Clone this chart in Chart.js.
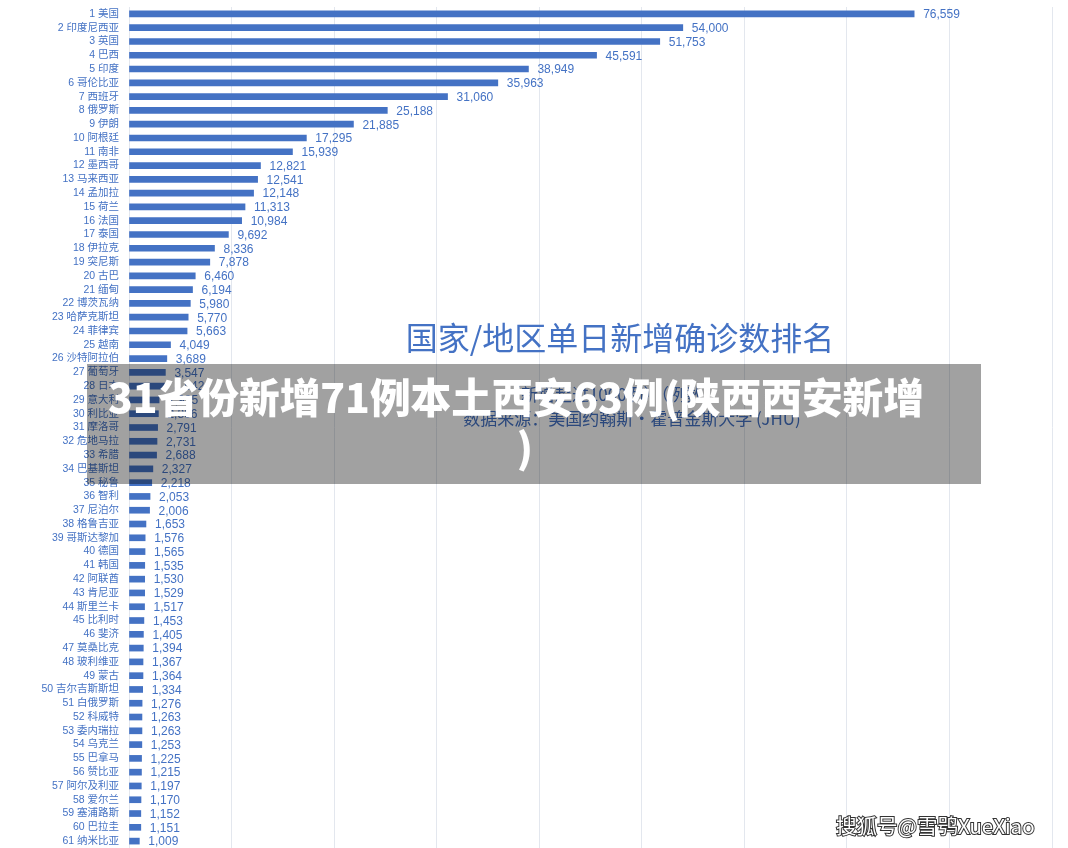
<!DOCTYPE html>
<html>
<head>
<meta charset="utf-8">
<script src="https://cdn.jsdelivr.net/npm/chart.js@4/dist/chart.umd.min.js"></script>
<style>
html,body{margin:0;padding:0;background:#fff;}
#wrap{width:1068px;height:848px;position:relative;}
</style>
</head>
<body>
<div id="wrap"><canvas id="c"></canvas></div>
<script>
const countries = ['美国','印度尼西亚','英国','巴西','印度','哥伦比亚','西班牙','俄罗斯','伊朗','阿根廷',
  '南非','墨西哥','马来西亚','孟加拉','荷兰','法国','泰国','伊拉克','突尼斯','古巴',
  '缅甸','博茨瓦纳','哈萨克斯坦','菲律宾','越南','沙特阿拉伯','葡萄牙','日本','意大利','利比亚',
  '摩洛哥','危地马拉','希腊','巴基斯坦','秘鲁','智利','尼泊尔','格鲁吉亚','哥斯达黎加','德国',
  '韩国','阿联酋','肯尼亚','斯里兰卡','比利时','斐济','莫桑比克','玻利维亚','蒙古','吉尔吉斯斯坦',
  '白俄罗斯','科威特','委内瑞拉','乌克兰','巴拿马','赞比亚','阿尔及利亚','爱尔兰','塞浦路斯','巴拉圭',
  '纳米比亚'];
const dailyCases = [76559,54000,51753,45591,38949,35963,31060,25188,21885,17295,
  15939,12821,12541,12148,11313,10984,9692,8336,7878,6460,
  6194,5980,5770,5663,4049,3689,3547,3542,2935,2866,
  2791,2731,2688,2327,2218,2053,2006,1653,1576,1565,
  1535,1530,1529,1517,1453,1405,1394,1367,1364,1334,
  1276,1263,1263,1253,1225,1215,1197,1170,1152,1151,
  1009];
const rankLabels = countries.map((n, i) => (i + 1) + ' ' + n);
const titleText = '国家/地区单日新增确诊数排名';
const noteText = '（新增超过1000例）（例数）';
const sourceText = '数据来源：美国约翰斯·霍普金斯大学 (JHU)';
const bannerLine1 = '31省份新增71例本土西安63例(陕西西安新增';
const bannerLine2 = ')';
const watermark = '搜狐号@雪鸮XueXiao';

const BLUE = '#4472C4';
const FONT = '"Liberation Sans", "Noto Sans CJK SC", sans-serif';

const valueLabels = {
  id: 'valueLabels',
  afterDatasetsDraw(chart) {
    const ctx = chart.ctx;
    const meta = chart.getDatasetMeta(0);
    ctx.save();
    ctx.font = '12px ' + FONT;
    ctx.fillStyle = BLUE;
    ctx.textAlign = 'left';
    ctx.textBaseline = 'middle';
    meta.data.forEach((bar, i) => {
      ctx.fillText(dailyCases[i].toLocaleString('en-US'), bar.x + 9, bar.y + 1);
    });
    ctx.restore();
  }
};

const decorations = {
  id: 'decorations',
  afterDraw(chart) {
    const ctx = chart.ctx;
    ctx.save();
    ctx.fillStyle = BLUE;
    ctx.textAlign = 'center';
    ctx.textBaseline = 'middle';
    ctx.font = '32px "Noto Sans CJK SC", sans-serif';
    ctx.fillText(titleText, 620, 338);
    ctx.font = '17px "Noto Sans CJK SC", sans-serif';
    ctx.fillText(noteText, 612, 395);
    ctx.font = '17px "Noto Sans CJK SC", "Liberation Sans", sans-serif';
    ctx.fillText(sourceText, 632, 419);
    ctx.fillStyle = 'rgba(0,0,0,0.37)';
    ctx.fillRect(87, 364, 894, 120);
    ctx.fillStyle = '#ffffff';
    ctx.font = '900 40px "Noto Sans CJK SC", sans-serif';
    const w = ctx.measureText(bannerLine1).width;
    const fs = 40 * 816 / w;
    ctx.font = '900 ' + fs.toFixed(1) + 'px "Noto Sans CJK SC", sans-serif';
    ctx.fillText(bannerLine1, 516, 398);
    ctx.fillText(bannerLine2, 525, 448);
    ctx.font = '20.5px "Noto Sans CJK SC", "Liberation Sans", sans-serif';
    ctx.textAlign = 'left';
    ctx.lineWidth = 2;
    ctx.strokeStyle = '#333333';
    ctx.strokeText(watermark, 836, 826);
    ctx.fillStyle = '#ffffff';
    ctx.fillText(watermark, 836, 826);
    ctx.restore();
  }
};

new Chart(document.getElementById('c'), {
  type: 'bar',
  data: {
    labels: rankLabels,
    datasets: [{
      data: dailyCases,
      backgroundColor: BLUE,
      barThickness: 6,
      borderWidth: 0
    }]
  },
  options: {
    indexAxis: 'y',
    responsive: true,
    maintainAspectRatio: false,
    devicePixelRatio: 1,
    animation: false,
    layout: { padding: { top: 7, right: 16, bottom: 0, left: 0 } },
    plugins: { legend: { display: false }, tooltip: { enabled: false }, title: { display: false } },
    scales: {
      x: {
        min: 0, max: 90000,
        ticks: { display: false, stepSize: 10000 },
        grid: { color: '#e3e7ee', lineWidth: 1, drawTicks: false },
        border: { display: false },
        afterFit(s) { s.height = 0; s.paddingLeft = 0; s.paddingRight = 0; s.paddingTop = 0; s.paddingBottom = 0; }
      },
      y: {
        ticks: { autoSkip: false, color: BLUE, padding: 10, font: { size: 10.5, family: FONT } },
        grid: { display: false, drawTicks: false },
        border: { display: false },
        afterFit(s) { s.width = 129; s.paddingTop = 0; s.paddingBottom = 0; s.paddingLeft = 0; s.paddingRight = 0; }
      }
    }
  },
  plugins: [valueLabels, decorations]
});
</script>
</body>
</html>
